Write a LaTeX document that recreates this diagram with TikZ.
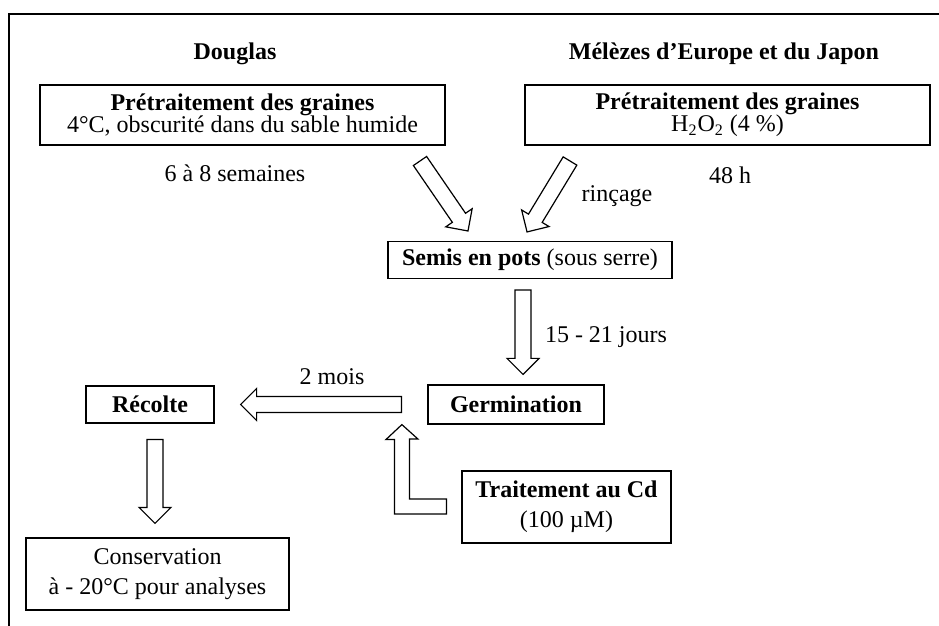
\documentclass[tikz,border=0pt]{standalone}
\usepackage{fontspec}
\setmainfont{Liberation Serif}
\usetikzlibrary{positioning,calc}
\tikzset{
  box/.style={rectangle, draw=black, line width=0.6pt, align=center, inner sep=2pt},
  titletxt/.style={font=\fontsize{12}{14.5}\selectfont\bfseries},
  bigarrow/.style={draw=black, line width=0.6pt, fill=white, line join=miter},
  frame/.style={draw=black, line width=1pt}
}
\newcommand{\blockarrow}[2]{%
  \path let \p1=($(#2)-(#1)$) in
    \pgfextra{\pgfmathparse{atan2(\y1,\x1)}\xdef\baang{\pgfmathresult}%
      \pgfmathparse{veclen(\x1,\y1)}\xdef\balen{\pgfmathresult}};
  \draw[bigarrow, shift={(#1)}, rotate=\baang]
    (0pt,-4pt) -- (\balen pt-8pt,-4pt) -- (\balen pt-8pt,-8pt) -- (\balen pt,0pt)
    -- (\balen pt-8pt,8pt) -- (\balen pt-8pt,4pt) -- (0pt,4pt) -- cycle;
}

\begin{document}
\begin{tikzpicture}[x=0.5pt, y=-0.5pt, every node/.style={font=\fontsize{12}{14.5}\selectfont}]
  \useasboundingbox (0,0) rectangle (939,626);
  \draw[frame] (9,626) -- (9,14) -- (939,14);

  \node[titletxt] (douglas) at (235,54) {Douglas};
  \node[titletxt] (melezes) at (724,54) {Mélèzes d’Europe et du Japon};
  \node[box, minimum width=202.5pt, minimum height=30pt, font=\fontsize{12}{11}\selectfont] (pretd) at (242.5,115)
    {\textbf{Prétraitement des graines}\\4°C, obscurité dans du sable humide};
  \node[box, minimum width=202.5pt, minimum height=30pt, font=\fontsize{12}{11}\selectfont] (pretm) at (727.5,115)
    {\textbf{Prétraitement des graines}\\H\textsubscript{2}O\textsubscript{2} (4 \%)};
  \node (semaines) at (235,173) {6 à 8 semaines};
  \node (heures) at (730,175) {48 h};
  \node (rincage) at (617,196) {rinçage};
  \node[box, minimum width=142pt, minimum height=18.5pt] (semis) at (530,260)
    {\textbf{Semis en pots} (sous serre)};
  \node (jours) at (606,337) {15 - 21 jours};
  \node[box, minimum width=88pt, minimum height=19.5pt] (germ) at (516,404.5) {\textbf{Germination}};
  \node[box, minimum width=64pt, minimum height=18.5pt] (recolte) at (150,404.5) {\textbf{Récolte}};
  \node (mois) at (332,377) {2 mois};
  \node[box, minimum width=131.5pt, minimum height=36pt, font=\fontsize{12}{15}\selectfont] (conserv) at (157.5,574)
    {Conservation\\à - 20°C pour analyses};
  \node[box, minimum width=104.5pt, minimum height=36pt, font=\fontsize{12}{15}\selectfont] (traitcd) at (566.5,507)
    {\textbf{Traitement au Cd}\\(100 µM)};

  \coordinate (d1) at (420,161);
  \coordinate (d2) at (468,231);
  \coordinate (m1) at (570,161);
  \coordinate (m2) at (527,232);
  \coordinate (s1) at ($(semis.south)+(-7,11)$);
  \coordinate (s2) at ($(germ.north)+(7,-10)$);
  \coordinate (g1) at ($(germ.west)+(-26,0)$);
  \coordinate (g2) at ($(recolte.east)+(26,0)$);
  \coordinate (r1) at ($(recolte.south)+(5,16)$);
  \coordinate (r2) at ($(conserv.north)+(-2.5,-14)$);
  \coordinate (c1) at ($(traitcd.west)+(-15,-0.5)$);
  \coordinate (c2) at ($(germ.south west)+(-25.5,0)$);

  \blockarrow{d1}{d2}
  \blockarrow{m1}{m2}
  \blockarrow{s1}{s2}
  \blockarrow{g1}{g2}
  \blockarrow{r1}{r2}
  \draw[bigarrow] (c1) ++(0,-7.5) -| ++(-37,-60) -- ++(8.5,0) -- (c2) -- ++(-16,15) -- ++(8.5,0)
    |- ($(c1)+(0,7.5)$) -- cycle;
\end{tikzpicture}
\end{document}
